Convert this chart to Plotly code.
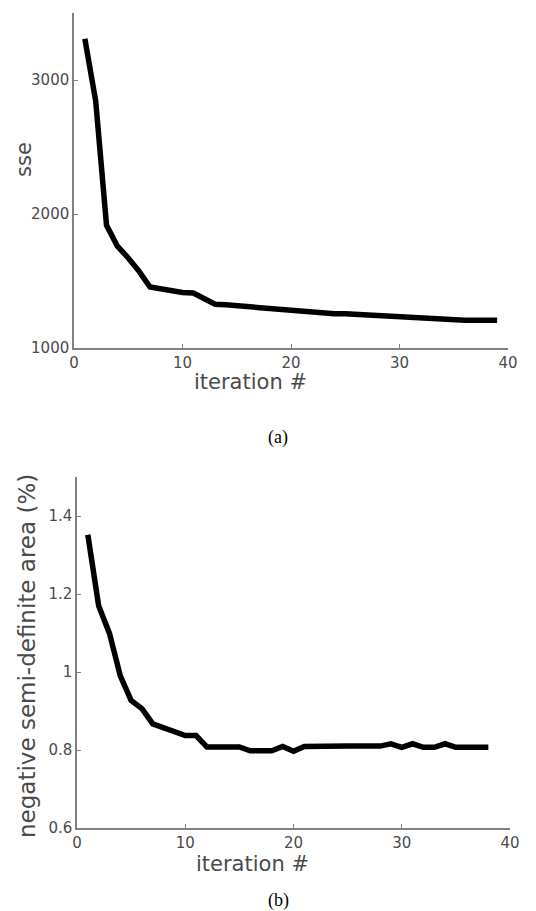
import plotly.graph_objects as go

# The page body has an 8px default margin, so the figure is drawn 8px in
# from the top-left corner of the 536x911 window.
OFF = 8
W, H = 536 - OFF, 911 - OFF

# ---- data ----
iter_a = list(range(1, 40))
sse = [3308, 2843, 1915, 1760, 1672, 1572, 1455, 1440, 1427, 1415,
       1410, 1372, 1327, 1322, 1315, 1305, 1297, 1290, 1285, 1280,
       1277, 1270, 1262, 1255, 1255, 1250, 1245, 1240, 1235, 1232,
       1227, 1217, 1215, 1215, 1210, 1207, 1207, 1207, 1207]

iter_b = list(range(1, 39))
nsd_area = [1.352, 1.17, 1.099, 0.99, 0.927, 0.906, 0.867, 0.857, 0.847, 0.837,
            0.837, 0.808, 0.808, 0.808, 0.808, 0.798, 0.797, 0.798, 0.809, 0.797,
            0.809, 0.81, 0.81, 0.81, 0.81, 0.81, 0.81, 0.81, 0.816, 0.807,
            0.816, 0.807, 0.807, 0.816, 0.807, 0.807, 0.807, 0.807]

x_ticks = [0, 10, 20, 30, 40]
x_ticklabels = ["0", "10", "20", "30", "40"]
ya_ticks = [1000, 2000, 3000]
ya_ticklabels = ["1000", "2000", "3000"]
yb_ticks = [0.6, 0.8, 1.0, 1.2, 1.4]
yb_ticklabels = ["0.6", "0.8", "1", "1.2", "1.4"]

# ---- figure ----
fig = go.Figure()
fig.add_trace(go.Scatter(x=iter_a, y=sse, mode="lines",
                         line=dict(color="black", width=5.5),
                         xaxis="x", yaxis="y", showlegend=False))
fig.add_trace(go.Scatter(x=iter_b, y=nsd_area, mode="lines",
                         line=dict(color="black", width=5.5),
                         xaxis="x2", yaxis="y2", showlegend=False))

tickfont = dict(family="DejaVu Sans", size=15, color="#4a4a4a")
axis_common = dict(showgrid=False, zeroline=False, showline=True,
                   linecolor="#808080", linewidth=1.5, ticks="inside",
                   ticklen=4, tickwidth=1.2, tickcolor="#808080",
                   tickfont=tickfont, mirror=False, automargin=False)

def px_x(p):
    return (p - OFF) / W

def px_y(p):
    return 1 - (p - OFF) / H

fig.update_layout(
    template="none",
    width=W, height=H,
    margin=dict(l=0, r=0, t=0, b=0, pad=0),
    paper_bgcolor="white", plot_bgcolor="white",
    xaxis=dict(domain=[px_x(74), px_x(508)], range=[0, 40], anchor="y",
               tickvals=x_ticks, ticktext=x_ticklabels, **axis_common),
    yaxis=dict(domain=[px_y(348), px_y(13)], range=[1000, 3500], anchor="x",
               tickvals=ya_ticks, ticktext=ya_ticklabels, **axis_common),
    xaxis2=dict(domain=[px_x(77), px_x(510)], range=[0, 40], anchor="y2",
                tickvals=x_ticks, ticktext=x_ticklabels, **axis_common),
    yaxis2=dict(domain=[px_y(828), px_y(477)], range=[0.6, 1.5], anchor="x2",
                tickvals=yb_ticks, ticktext=yb_ticklabels, **axis_common),
)

title_font = dict(family="DejaVu Sans", size=21, color="#4a4a4a")
long_font = dict(family="DejaVu Sans", size=23, color="#4a4a4a")
cap_font = dict(family="Liberation Serif", size=18, color="black")

annots = [
    dict(text="sse", x=px_x(24), y=px_y(160), textangle=-90, font=title_font),
    dict(text="iteration #", x=px_x(250), y=px_y(382), font=title_font),
    dict(text="negative semi-definite area (%)", x=px_x(27), y=px_y(656),
         textangle=-90, font=long_font),
    dict(text="iteration #", x=px_x(252), y=px_y(864), font=title_font),
    dict(text="(a)", x=px_x(278), y=px_y(437), font=cap_font),
    dict(text="(b)", x=px_x(278), y=px_y(900), font=cap_font),
]
for a in annots:
    fig.add_annotation(xref="paper", yref="paper", showarrow=False,
                       xanchor="center", yanchor="middle", **a)

fig.write_html("out.html")
